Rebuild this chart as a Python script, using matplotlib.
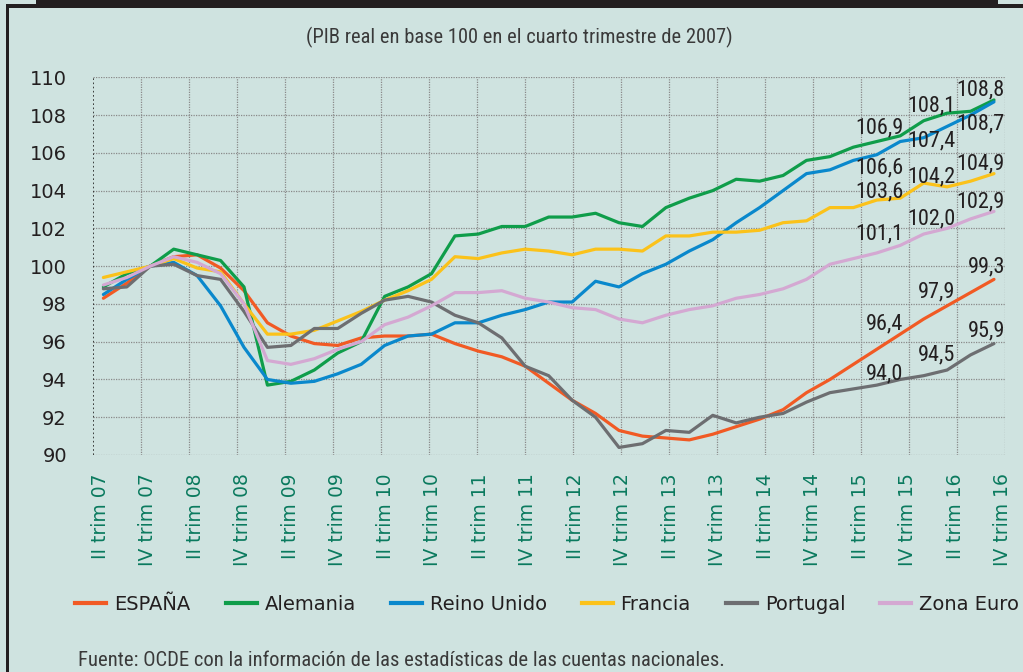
import numpy as np
import matplotlib
matplotlib.use("Agg")
import matplotlib.pyplot as plt
from matplotlib import font_manager
from matplotlib.lines import Line2D
from matplotlib.patches import Rectangle

# quarters from II trim 07 to IV trim 16
roman = ["II", "III", "IV", "I"]
quarters = []
for k in range(39):
    q = roman[k % 4]
    year = 7 + (k + 1) // 4
    quarters.append(f"{q} trim {year:02d}")

espana = [98.3, 99.1, 100.0, 100.5, 100.6, 99.9, 98.7, 97.0, 96.3, 95.9,
          95.8, 96.2, 96.3, 96.3, 96.4, 95.9, 95.5, 95.2, 94.7, 93.8,
          92.9, 92.2, 91.3, 91.0, 90.9, 90.8, 91.1, 91.5, 91.9, 92.4,
          93.3, 94.0, 94.8, 95.6, 96.4, 97.2, 97.9, 98.6, 99.3]
alemania = [98.9, 99.6, 100.0, 100.9, 100.6, 100.3, 98.9, 93.7, 93.9, 94.5,
            95.4, 96.0, 98.4, 98.9, 99.6, 101.6, 101.7, 102.1, 102.1, 102.6,
            102.6, 102.8, 102.3, 102.1, 103.1, 103.6, 104.0, 104.6, 104.5, 104.8,
            105.6, 105.8, 106.3, 106.6, 106.9, 107.7, 108.1, 108.2, 108.8]
reino_unido = [98.5, 99.3, 100.0, 100.2, 99.5, 97.9, 95.7, 94.0, 93.8, 93.9,
               94.3, 94.8, 95.8, 96.3, 96.4, 97.0, 97.0, 97.4, 97.7, 98.1,
               98.1, 99.2, 98.9, 99.6, 100.1, 100.8, 101.4, 102.3, 103.1, 104.0,
               104.9, 105.1, 105.6, 105.9, 106.6, 106.8, 107.4, 108.0, 108.7]
francia = [99.4, 99.7, 100.0, 100.4, 99.9, 99.7, 98.0, 96.4, 96.4, 96.6,
           97.1, 97.6, 98.2, 98.7, 99.3, 100.5, 100.4, 100.7, 100.9, 100.8,
           100.6, 100.9, 100.9, 100.8, 101.6, 101.6, 101.8, 101.8, 101.9, 102.3,
           102.4, 103.1, 103.1, 103.5, 103.6, 104.4, 104.2, 104.5, 104.9]
portugal = [98.8, 98.9, 100.0, 100.1, 99.5, 99.3, 97.6, 95.7, 95.8, 96.7,
            96.7, 97.5, 98.2, 98.4, 98.1, 97.4, 97.0, 96.2, 94.7, 94.2,
            92.9, 92.0, 90.4, 90.6, 91.3, 91.2, 92.1, 91.7, 92.0, 92.2,
            92.8, 93.3, 93.5, 93.7, 94.0, 94.2, 94.5, 95.3, 95.9]
zona_euro = [99.0, 99.4, 100.0, 100.5, 100.2, 99.6, 98.0, 95.0, 94.8, 95.1,
             95.6, 96.0, 96.9, 97.3, 97.9, 98.6, 98.6, 98.7, 98.3, 98.1,
             97.8, 97.7, 97.2, 97.0, 97.4, 97.7, 97.9, 98.3, 98.5, 98.8,
             99.3, 100.1, 100.4, 100.7, 101.1, 101.7, 102.0, 102.5, 102.9]

series = [
    ("ESPAÑA", espana, "#f15a24"),
    ("Alemania", alemania, "#0f9d4a"),
    ("Reino Unido", reino_unido, "#0a88cc"),
    ("Francia", francia, "#fbc21a"),
    ("Portugal", portugal, "#6d6e71"),
    ("Zona Euro", zona_euro, "#d4a8d2"),
]

# quarters that carry value labels
label_idx = [34, 36, 38]
# vertical offset (pixels) of each series' labels
label_dy = {
    "ESPAÑA": [10, 14, 12],
    "Alemania": [8, 7, 10],
    "Reino Unido": [-26, -15, -22],
    "Francia": [6, 10, 10],
    "Portugal": [6, 15, 13],
    "Zona Euro": [11, 9, 9],
}
label_dx = [3, 8, 11]

BG = "#cfe3e0"

# pick a narrow face if one is installed
fonts = font_manager.fontManager.ttflist
names = {f.name for f in fonts}
narrow = None
for cand in ["Liberation Sans Narrow", "Roboto Condensed", "Open Sans Condensed"]:
    if cand in names:
        narrow = dict(family=[cand, "DejaVu Sans"])
        break
if narrow is None:
    for f in fonts:
        if f.name in ("DejaVu Sans", "Noto Sans", "Open Sans") and "ondensed" in str(f.stretch) + f.fname:
            narrow = dict(family=[f.name, "DejaVu Sans"], fontstretch="condensed")
            break
if narrow is None:
    narrow = dict(family=["DejaVu Sans"])
    scale = 0.82
else:
    scale = 1.0

fig = plt.figure(figsize=(10.23, 6.72), dpi=100, facecolor=BG)
ax = fig.add_axes([93.3 / 1023, 1 - 455 / 672, (1005 - 93.3) / 1023, (455 - 77.3) / 672])
ax.set_facecolor(BG)

x = np.arange(len(quarters))
xmin, xmax = -0.43, 38.47
ax.set_xlim(xmin, xmax)
ax.set_ylim(90, 110)

# dotted grid
for yv in range(90, 111, 2):
    ax.axhline(yv, color="#8a8a8a", lw=0.9, ls=(0, (1, 1)), zorder=0)
for gx in np.linspace(xmin, xmax, 20)[1:]:
    ax.axvline(gx, color="#8a8a8a", lw=0.9, ls=(0, (1, 1)), zorder=0)
ax.axvline(xmin, color="#222222", lw=1.2, ls=(0, (1, 1.5)), zorder=1)
for s in ax.spines.values():
    s.set_visible(False)

for name, vals, col in series:
    ax.plot(x, vals, color=col, lw=2.3, label=name, solid_capstyle="round", zorder=3)
    for j, i in enumerate(label_idx):
        txt = f"{vals[i]:.1f}".replace(".", ",")
        ax.annotate(txt, (x[i], vals[i]), xytext=(label_dx[j], label_dy[name][j]),
                    textcoords="offset pixels", ha="right", va="center",
                    fontsize=16 * scale, color="#231f20", zorder=4, **narrow)

ax.set_yticks(range(90, 111, 2))
ax.tick_params(axis="y", length=0, pad=19, labelsize=14, labelcolor="#231f20")

tick_pos = np.linspace(-0.14, 38.38, 20)
ax.set_xticks(tick_pos)
ax.set_xticklabels(quarters[::2], rotation=90, fontsize=13.5, color="#0a7a5e")
ax.tick_params(axis="x", length=0, pad=13)

handles = [Line2D([], [], color=c, lw=3) for _, _, c in series]
fig.legend(handles, [n for n, _, _ in series], loc="center", bbox_to_anchor=(0.535, 0.101),
           ncol=6, frameon=False, fontsize=14, handlelength=1.6, handletextpad=0.4,
           columnspacing=1.8, labelcolor="#231f20")

fig.text(0.508, 1 - 37 / 672, "(PIB real en base 100 en el cuarto trimestre de 2007)",
         ha="center", va="center", fontsize=14.8 * scale, color="#3a3a3a", **narrow)
fig.text(78 / 1023, 1 - 661 / 672,
         "Fuente: OCDE con la información de las estadísticas de las cuentas nacionales.",
         ha="left", va="center", fontsize=14.9 * scale, color="#3a3a3a", **narrow)

# frame pieces
fig.add_artist(Rectangle((36 / 1023, 1 - 8 / 672), (998 - 36) / 1023, 8 / 672,
                         transform=fig.transFigure, color="#231f20", lw=0))
fig.add_artist(Rectangle((6 / 1023, 1 - 8 / 672), 1.0, 4 / 672,
                         transform=fig.transFigure, color="#231f20", lw=0))
fig.add_artist(Rectangle((6 / 1023, 0), 3 / 1023, 1 - 4 / 672,
                         transform=fig.transFigure, color="#231f20", lw=0))

fig.savefig("out.png", dpi=100, facecolor=BG)
